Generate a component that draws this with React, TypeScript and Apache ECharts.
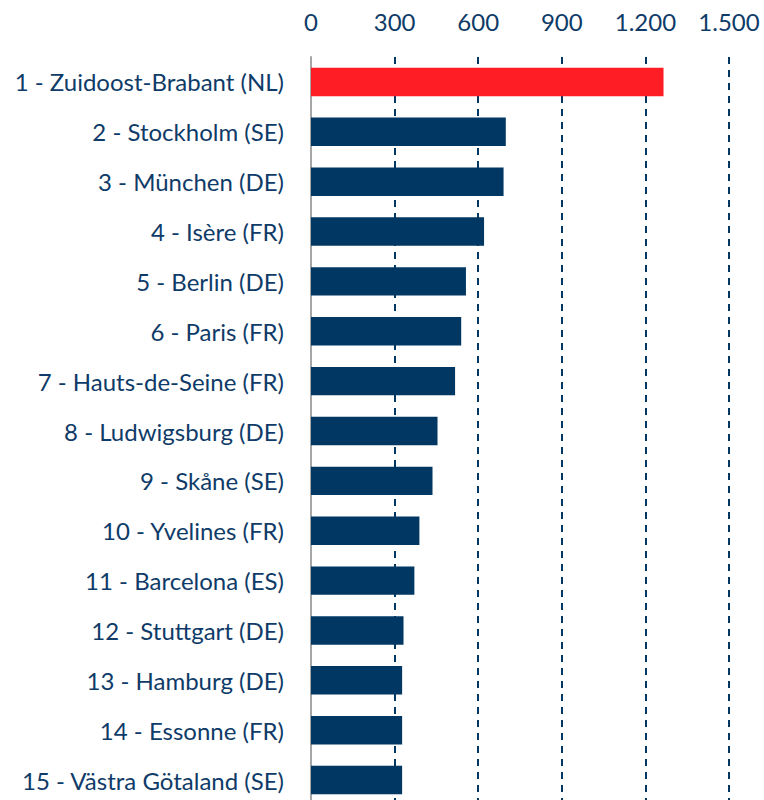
import React, { useEffect, useRef } from "react";
import * as echarts from "echarts";

const categories = [
  "1 - Zuidoost-Brabant (NL)",
  "2 - Stockholm (SE)",
  "3 - München (DE)",
  "4 - Isère (FR)",
  "5 - Berlin (DE)",
  "6 - Paris (FR)",
  "7 - Hauts-de-Seine (FR)",
  "8 - Ludwigsburg (DE)",
  "9 - Skåne (SE)",
  "10 - Yvelines (FR)",
  "11 - Barcelona (ES)",
  "12 - Stuttgart (DE)",
  "13 - Hamburg (DE)",
  "14 - Essonne (FR)",
  "15 - Västra Götaland (SE)",
];
const values = [1265, 699, 691, 621, 556, 539, 517, 454, 436, 389, 371, 332, 327, 327, 327];
const highlightIndex = 0;

const NAVY = "#003763";
const RED = "#ff1d25";
const TEXT = "#0f3b68";

export default function App() {
  const ref = useRef<HTMLDivElement>(null);
  useEffect(() => {
    document.body.style.margin = "0";
    document.body.style.overflow = "hidden";
    const chart = echarts.init(ref.current!, null, { renderer: "svg" });
    chart.setOption({
      animation: false,
      grid: { left: 311, right: 35, top: 57, height: 748, containLabel: false },
      xAxis: {
        type: "value",
        position: "top",
        min: 0,
        max: 1500,
        interval: 300,
        axisLine: { show: false },
        axisTick: { show: false },
        axisLabel: {
          color: TEXT,
          fontFamily: "Lato",
          fontSize: 24,
          margin: 24,
          formatter: (v: number) => (v >= 1000 ? v.toLocaleString("de-DE") : String(v)),
        },
        splitLine: {
          show: true,
          lineStyle: {
            color: ["rgba(0,0,0,0)", NAVY, NAVY, NAVY, NAVY, NAVY],
            width: 2,
            type: [7, 6],
          },
        },
      },
      yAxis: {
        type: "category",
        inverse: true,
        data: categories,
        axisLine: { show: true, lineStyle: { color: "#a6a6a6", width: 2 } },
        axisTick: { show: false },
        axisLabel: {
          color: TEXT,
          fontFamily: "Lato",
          fontSize: 24,
          margin: 27,
        },
        splitLine: { show: false },
      },
      series: [
        {
          type: "bar",
          data: values.map((v, i) => ({
            value: v,
            itemStyle: { color: i === highlightIndex ? RED : NAVY },
          })),
          barCategoryGap: "43%",
        },
      ],
    });
    return () => chart.dispose();
  }, []);
  return <div ref={ref} style={{ width: 764, height: 812 }} />;
}
